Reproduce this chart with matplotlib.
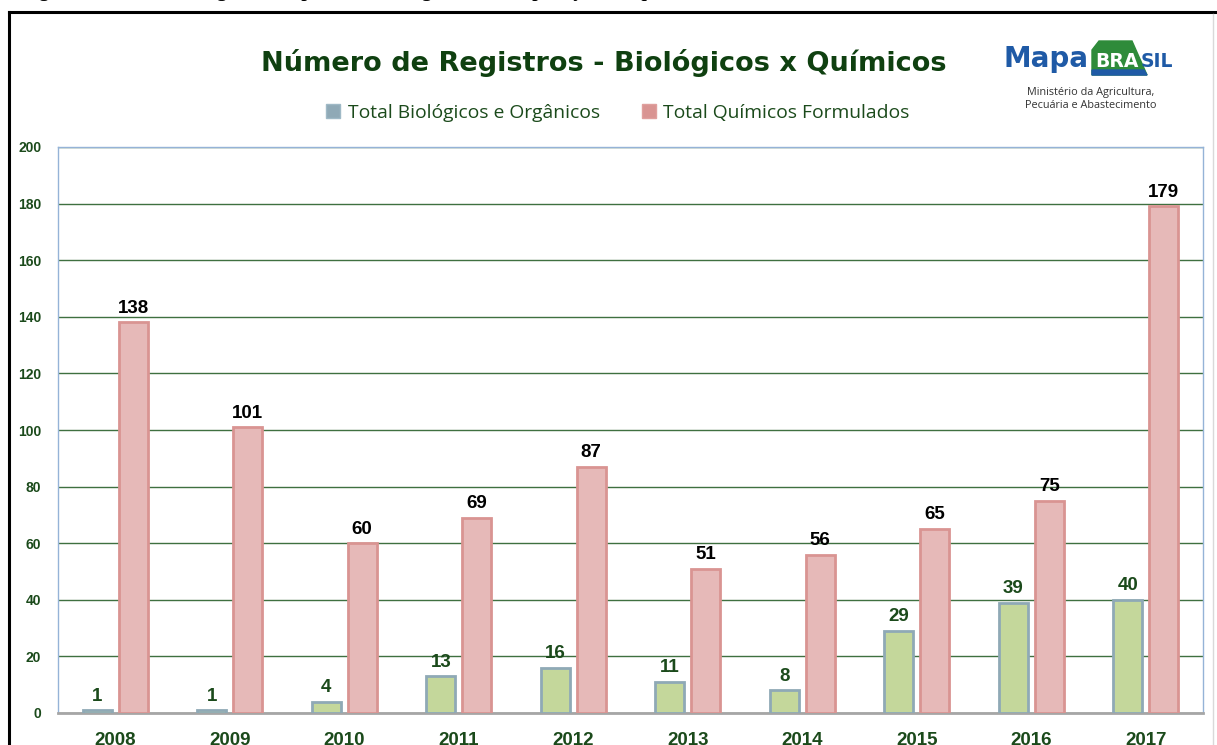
import matplotlib.pyplot as plt
from matplotlib.patches import Patch, Polygon
from matplotlib.lines import Line2D

years = ["2008", "2009", "2010", "2011", "2012", "2013", "2014", "2015", "2016", "2017"]
biologicos = [1, 1, 4, 13, 16, 11, 8, 29, 39, 40]
quimicos = [138, 101, 60, 69, 87, 51, 56, 65, 75, 179]
series_names = ["Total Biológicos e Orgânicos", "Total Químicos Formulados"]

W, H = 1217, 745
dark_green = "#1b4a1b"
fig = plt.figure(figsize=(W / 100, H / 100), dpi=100)
fig.patch.set_facecolor("white")

# overlay in pixel coordinates for frame, caption and logo
deco = fig.add_axes([0, 0, 1, 1])
deco.set_xlim(0, W)
deco.set_ylim(H, 0)
deco.axis("off")
deco.add_line(Line2D([8.5, 8.5], [12, H], color="black", lw=2.2))
deco.add_line(Line2D([8.5, W], [12, 12], color="black", lw=2.2))
deco.add_line(Line2D([1213, 1213], [14, H], color="#d9d9d9", lw=1))
deco.text(22, -3, "Figura 2. Número de registros de produtos biológicos em comparação aos químicos",
          family="Liberation Serif", weight="bold", fontsize=14, ha="left", va="baseline",
          color="black", clip_on=True)

# logo
deco.add_patch(Polygon([(1092, 75), (1092, 50), (1099, 41), (1132, 41), (1147, 75)],
                       closed=True, color="#2e8b3a", zorder=2))
deco.add_patch(Polygon([(1092, 75), (1092, 70), (1144, 70), (1147, 75)],
                       closed=True, color="#1f5aa6", zorder=2))
deco.text(1004, 67, "Mapa", family="DejaVu Sans", weight="bold", fontsize=20,
          color="#1f5aa6", ha="left", va="baseline", zorder=3)
deco.text(1095, 67, "BRA", family="DejaVu Sans", weight="bold", fontsize=13.5,
          color="white", ha="left", va="baseline", zorder=3)
deco.text(1141, 67, "SIL", family="DejaVu Sans", weight="bold", fontsize=13.5,
          color="#1f5aa6", ha="left", va="baseline", zorder=3)
deco.text(1091, 92, "Ministério da Agricultura,", family="Open Sans", fontsize=7.8,
          color="#333333", ha="center", va="center", zorder=3)
deco.text(1091, 105, "Pecuária e Abastecimento", family="Open Sans", fontsize=7.8,
          color="#333333", ha="center", va="center", zorder=3)

deco.text(604, 63, "Número de Registros - Biológicos x Químicos", family="DejaVu Sans",
          weight="bold", fontsize=19.5, color="#0f4010", ha="center", va="center")

ax = fig.add_axes([58 / W, 32 / H, (1203 - 58) / W, (713 - 147) / H])
ax.set_zorder(1)
ax.patch.set_alpha(0)

x = list(range(len(years)))
bw = 0.25
off = 0.157
b1 = ax.bar([i - off for i in x], biologicos, bw, color="#c4d79b", edgecolor="#8fa9b6",
            linewidth=2, zorder=3)
b2 = ax.bar([i + off for i in x], quimicos, bw, color="#e6b9b8", edgecolor="#d99492",
            linewidth=2, zorder=3)

for rect, v in zip(b1, biologicos):
    ax.annotate(str(v), (rect.get_x() + rect.get_width() / 2, v), xytext=(0, 4),
                textcoords="offset points", ha="center", va="bottom",
                family="Liberation Sans", weight="bold", fontsize=13.5, color=dark_green)
for rect, v in zip(b2, quimicos):
    ax.annotate(str(v), (rect.get_x() + rect.get_width() / 2, v), xytext=(0, 4),
                textcoords="offset points", ha="center", va="bottom",
                family="Liberation Sans", weight="bold", fontsize=13.5, color="black")

ax.set_xlim(-0.5, len(years) - 0.5)
ax.set_ylim(0, 200)
ax.set_yticks(range(0, 201, 20))
ax.set_xticks(x)
ax.set_xticklabels(years)
ax.grid(axis="y", color="#3f7040", lw=1, zorder=0)
ax.tick_params(axis="both", length=0, colors=dark_green)
ax.tick_params(axis="y", pad=12)
ax.tick_params(axis="x", pad=14)
for lab in ax.get_yticklabels():
    lab.set_family("Liberation Sans")
    lab.set_weight("bold")
    lab.set_fontsize(10)
for lab in ax.get_xticklabels():
    lab.set_family("Liberation Sans")
    lab.set_weight("bold")
    lab.set_fontsize(13.5)
for side in ["left", "right", "top"]:
    ax.spines[side].set_color("#95b3d7")
    ax.spines[side].set_linewidth(1)
ax.spines["bottom"].set_color("#a6a6a6")
ax.spines["bottom"].set_linewidth(2)

handles = [Patch(facecolor="#8fa9b6", edgecolor="#9fb9c6"),
           Patch(facecolor="#d99492", edgecolor="#e0a09e")]
leg = fig.legend(handles, series_names, loc="center", bbox_to_anchor=(618 / W, 1 - 113 / H),
                 ncol=2, frameon=False, handlelength=0.7, handleheight=0.7,
                 handletextpad=0.4, columnspacing=2.2,
                 prop={"family": "Open Sans", "size": 13.9})
for t in leg.get_texts():
    t.set_color(dark_green)

fig.savefig("out.png", dpi=100, facecolor="white")
